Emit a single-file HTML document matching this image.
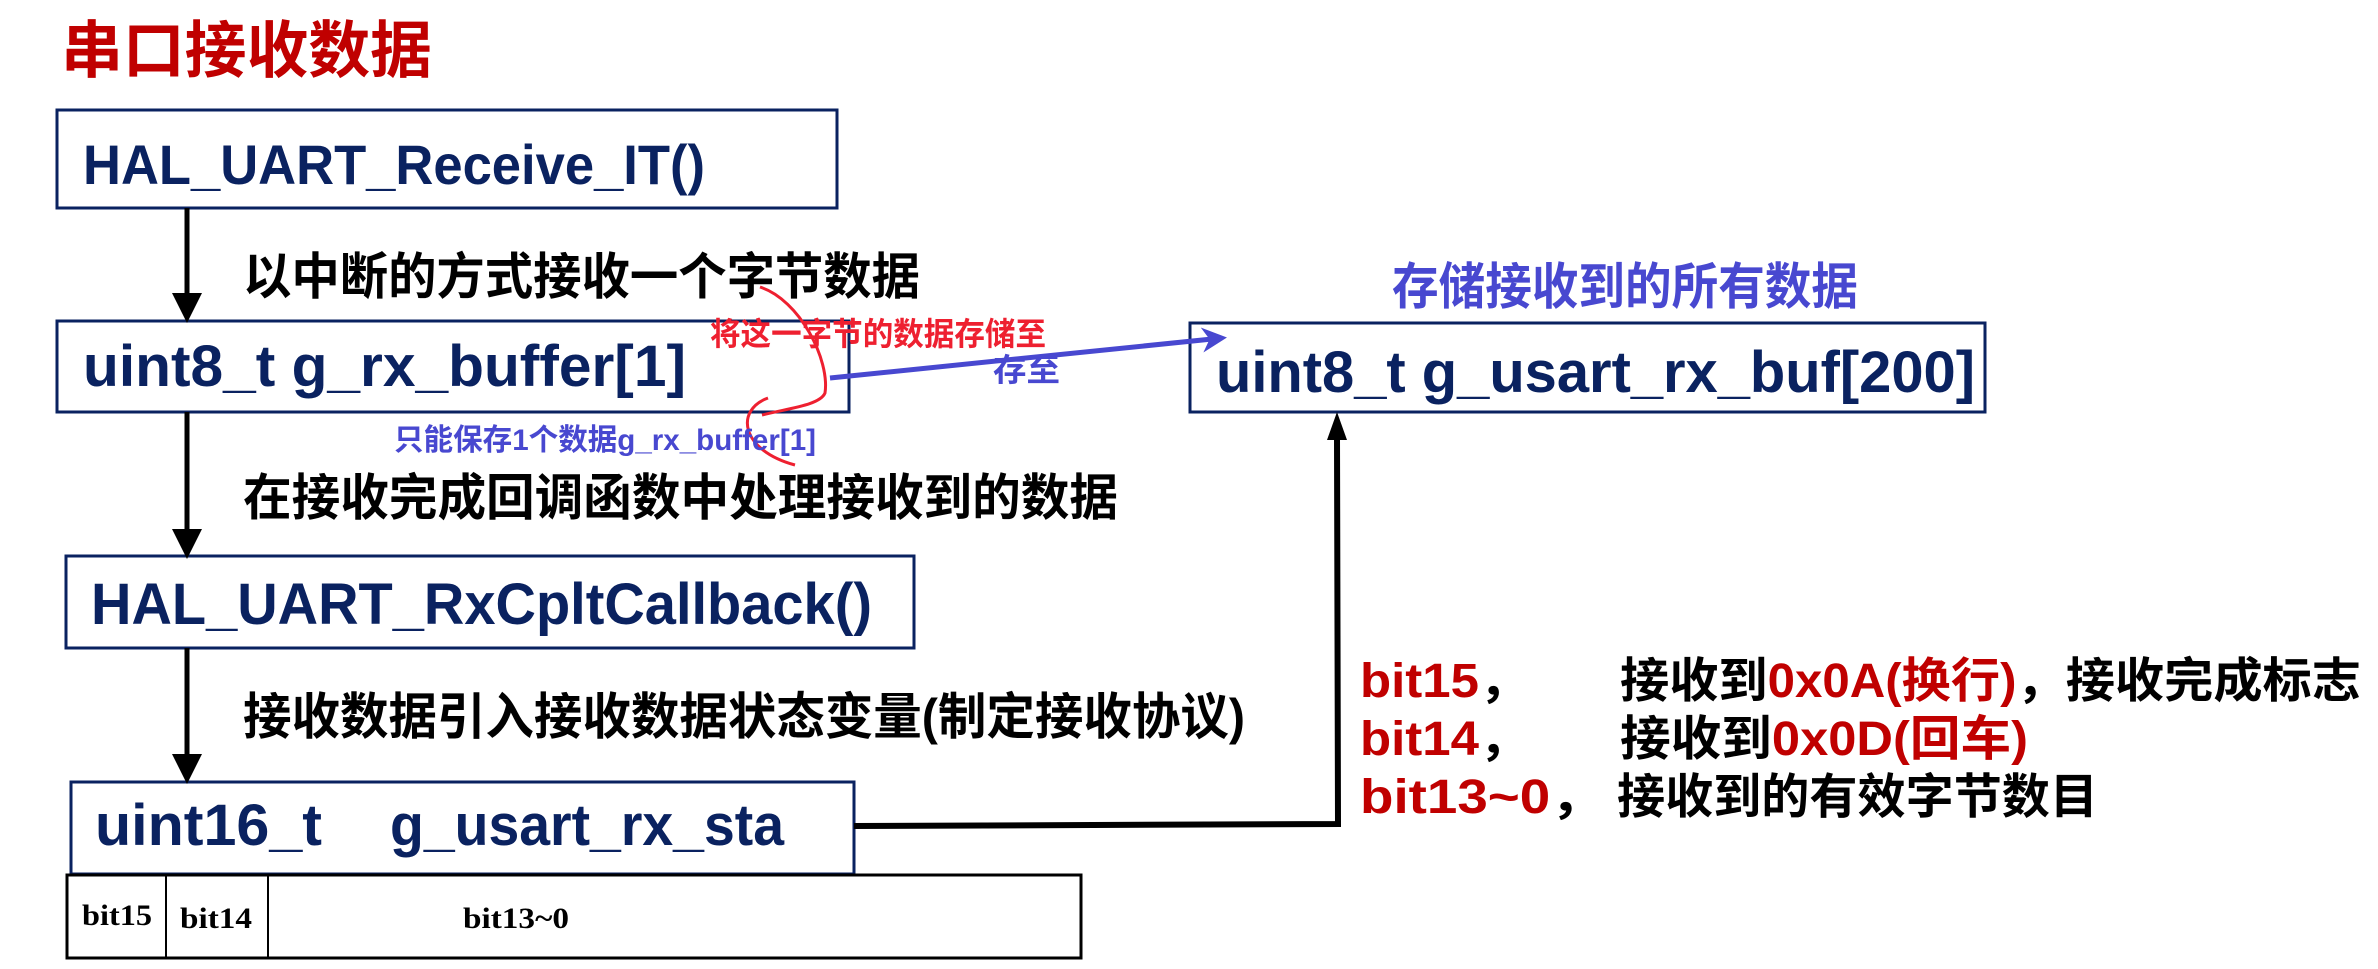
<!DOCTYPE html>
<html><head><meta charset="utf-8"><style>
html,body{margin:0;padding:0;background:#fff;}
svg{display:block;}
text{font-family:"Liberation Sans","Noto Sans CJK SC",sans-serif;font-weight:bold;}
</style></head><body>
<svg width="2378" height="969" viewBox="0 0 2378 969" xmlns="http://www.w3.org/2000/svg">
<defs>
<marker id="ab" markerWidth="6" markerHeight="6" refX="5" refY="3" orient="auto" markerUnits="strokeWidth"><path d="M0,0 L6,3 L0,6 z" fill="#000"/></marker>
<marker id="au" markerWidth="5" markerHeight="5" refX="4" refY="2.5" orient="auto" markerUnits="strokeWidth"><path d="M0,0 L5,2.5 L0,5 L1.5,2.5 z" fill="#4848d0"/></marker>
</defs>
<text x="61" y="72" font-size="62" fill="#c00000" textLength="371" lengthAdjust="spacingAndGlyphs">串口接收数据</text>

<g fill="none" stroke="#0a2260" stroke-width="3">
<rect x="57" y="110" width="780" height="98"/>
<rect x="57" y="321" width="792" height="91"/>
<rect x="66" y="556" width="848" height="92"/>
<rect x="71" y="782" width="783" height="92"/>
<rect x="1190" y="323" width="795" height="89"/>
</g>
<g fill="#0a2260">
<text x="83" y="184" font-size="56" textLength="622" lengthAdjust="spacingAndGlyphs">HAL_UART_Receive_IT()</text>
<text x="83" y="386" font-size="58" textLength="603" lengthAdjust="spacingAndGlyphs">uint8_t g_rx_buffer[1]</text>
<text x="91" y="624" font-size="58" textLength="781" lengthAdjust="spacingAndGlyphs">HAL_UART_RxCpltCallback()</text>
<text x="95" y="845" font-size="58" textLength="227" lengthAdjust="spacingAndGlyphs">uint16_t</text>
<text x="390" y="845" font-size="58" textLength="394" lengthAdjust="spacingAndGlyphs">g_usart_rx_sta</text>
<text x="1216" y="392" font-size="58" textLength="759" lengthAdjust="spacingAndGlyphs">uint8_t g_usart_rx_buf[200]</text>
</g>

<g stroke="#000" stroke-width="5">
<line x1="187" y1="208" x2="187" y2="318" marker-end="url(#ab)"/>
<line x1="187" y1="412" x2="187" y2="554" marker-end="url(#ab)"/>
<line x1="187" y1="648" x2="187" y2="779" marker-end="url(#ab)"/>
</g>

<g fill="#000">
<text x="243" y="294" font-size="50" textLength="677" lengthAdjust="spacingAndGlyphs">以中断的方式接收一个字节数据</text>
<text x="243" y="515" font-size="50" textLength="875" lengthAdjust="spacingAndGlyphs">在接收完成回调函数中处理接收到的数据</text>
<text x="243" y="734" font-size="50" textLength="1002" lengthAdjust="spacingAndGlyphs">接收数据引入接收数据状态变量(制定接收协议)</text>
</g>

<text x="710" y="345" font-size="32" fill="#ee2030" textLength="336" lengthAdjust="spacingAndGlyphs">将这一字节的数据存储至</text>
<path d="M760,287 C800,300 830,360 825,393 C820,405 790,408 762,415" fill="none" stroke="#ee2030" stroke-width="3"/>
<path d="M768,398 C735,410 740,450 795,465" fill="none" stroke="#ee2030" stroke-width="3"/>
<line x1="830" y1="378" x2="1222" y2="338" stroke="#4848d0" stroke-width="5" marker-end="url(#au)"/>
<text x="993" y="381" font-size="32" fill="#4848d0" textLength="67" lengthAdjust="spacingAndGlyphs">存至</text>
<text x="394" y="450" font-size="30" fill="#4848d0" textLength="422" lengthAdjust="spacingAndGlyphs">只能保存1个数据g_rx_buffer[1]</text>
<text x="1392" y="304" font-size="50" fill="#4848d0" textLength="466" lengthAdjust="spacingAndGlyphs">存储接收到的所有数据</text>

<polyline points="854,826 1338,824 1337,438" fill="none" stroke="#000" stroke-width="6"/>
<path d="M1327,440 L1337,412 L1347,440 z" fill="#000"/>

<g fill="none" stroke="#000">
<rect x="67" y="875" width="1014" height="83" stroke-width="3"/>
<line x1="166" y1="875" x2="166" y2="958" stroke-width="2"/>
<line x1="268" y1="875" x2="268" y2="958" stroke-width="2"/>
</g>
<g fill="#000" font-size="30">
<text x="82" y="925" textLength="70" lengthAdjust="spacingAndGlyphs" style="font-family:'Liberation Serif',serif">bit15</text>
<text x="180" y="928" textLength="72" lengthAdjust="spacingAndGlyphs" style="font-family:'Liberation Serif',serif">bit14</text>
<text x="463" y="928" textLength="106" lengthAdjust="spacingAndGlyphs" style="font-family:'Liberation Serif',serif">bit13~0</text>
</g>

<g font-size="48">
<text x="1360" y="697" fill="#c00000" textLength="170" lengthAdjust="spacingAndGlyphs">bit15<tspan fill="#000">，</tspan></text>
<text x="1360" y="755" fill="#c00000" textLength="170" lengthAdjust="spacingAndGlyphs">bit14<tspan fill="#000">，</tspan></text>
<text x="1360" y="813" fill="#c00000" textLength="245" lengthAdjust="spacingAndGlyphs">bit13~0<tspan fill="#000">，</tspan></text>
<text x="1620" y="697" fill="#000" textLength="741" lengthAdjust="spacingAndGlyphs">接收到<tspan fill="#c00000">0x0A(换行)</tspan>，接收完成标志</text>
<text x="1620" y="755" fill="#000" textLength="408" lengthAdjust="spacingAndGlyphs">接收到<tspan fill="#c00000">0x0D(回车)</tspan></text>
<text x="1617" y="813" fill="#000" textLength="481" lengthAdjust="spacingAndGlyphs">接收到的有效字节数目</text>
</g>
</svg>
</body></html>
